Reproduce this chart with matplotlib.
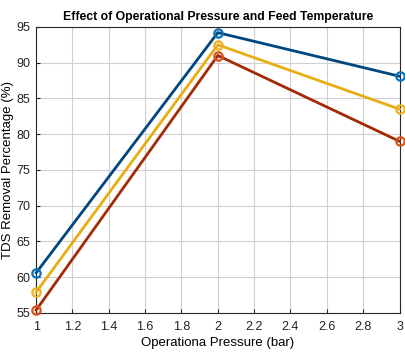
import matplotlib.pyplot as plt

plt.rcParams['font.family'] = ['Liberation Sans', 'DejaVu Sans']

# Operating pressure (bar) and TDS removal for three feed temperatures
pressure = [1, 2, 3]
tds_blue = [60.6, 94.2, 88.1]
tds_yellow = [57.9, 92.5, 83.5]
tds_red = [55.4, 91.0, 79.0]

fig = plt.figure(figsize=(4.06, 3.54), dpi=100)
ax = fig.add_axes([0.089, 0.116, 0.895, 0.808])

ax.plot(pressure, tds_blue, color='#00467f', lw=2, marker='o', ms=6,
        mfc='none', mec='#0a72b8', mew=1.6, clip_on=False, zorder=3)
ax.plot(pressure, tds_yellow, color='#e8ad12', lw=2, marker='o', ms=6,
        mfc='none', mec='#edb120', mew=1.6, clip_on=False, zorder=3)
ax.plot(pressure, tds_red, color='#a32a06', lw=2, marker='o', ms=6,
        mfc='none', mec='#d95319', mew=1.6, clip_on=False, zorder=3)

ax.set_xlim(1, 3)
ax.set_ylim(55, 95)
ax.set_xticks([1, 1.2, 1.4, 1.6, 1.8, 2, 2.2, 2.4, 2.6, 2.8, 3])
ax.set_xticklabels(['1', '1.2', '1.4', '1.6', '1.8', '2', '2.2', '2.4', '2.6', '2.8', '3'])
ax.set_yticks(range(55, 96, 5))
ax.grid(True, color='#d0d0d0', lw=0.8)
ax.tick_params(direction='in', labelsize=9, length=3, colors='#222222', pad=4)
ax.tick_params(axis='x', pad=6)
for s in ax.spines.values():
    s.set_color('#262626')

ax.set_xlabel('Operationa Pressure (bar)', fontsize=9.5, labelpad=3)
ax.set_ylabel('TDS Removal Percentage (%)', fontsize=9.5, labelpad=2)
ax.set_title('Effect of Operational Pressure and Feed Temperature',
             fontsize=8.8, fontweight='bold', pad=5)

fig.savefig('out.png', dpi=100)
